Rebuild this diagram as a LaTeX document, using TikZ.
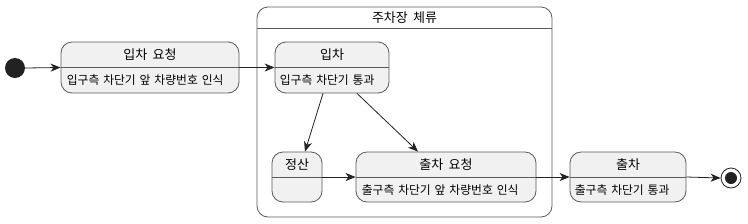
\documentclass[tikz,border=0pt]{standalone}
\usepackage{fontspec}
\setmainfont{Noto Sans CJK KR}
\usetikzlibrary{arrows.meta,calc}
\definecolor{linec}{HTML}{5A5A5A}
\definecolor{statefill}{HTML}{F1F1F1}
\definecolor{dotc}{HTML}{222222}
\newcommand\mytitlefont{\fontsize{13}{15}\selectfont\spaceskip=0.4em\relax}
\newcommand\mybodyfont{\fontsize{11.8}{13}\selectfont\spaceskip=0.33em\relax}
\begin{document}
\begin{tikzpicture}[x=1pt,y=-1pt,
  statebox/.style={draw=linec, fill=statefill, rounded corners=11pt, line width=0.8pt, inner sep=0pt},
  compbox/.style={draw=linec, fill=white, rounded corners=11pt, line width=0.8pt, inner sep=0pt},
  titletext/.style={font=\mytitlefont, inner sep=0pt},
  bodytext/.style={font=\mybodyfont, inner sep=0pt, anchor=west},
  conn/.style={draw=dotc, line width=0.8pt, -{Stealth[length=10pt,width=8pt,inset=3pt]}},
  divider/.style={draw=linec, line width=0.8pt}]
\useasboundingbox (0,0) rectangle (748,223);

% composite
\node[compbox, minimum width=295pt, minimum height=210pt] (comp) at (404.5,112) {};
\draw[divider] ($(comp.north west)+(0,22)$) -- ($(comp.north east)+(0,22)$);
\node[titletext] (compt) at ($(comp.north)+(0,11)$) {주차장 체류};

% start
\node[circle, fill=dotc, minimum size=20pt, inner sep=0pt] (start) at (15,68) {};

% state 1
\node[statebox, minimum width=178pt, minimum height=51pt] (s1) at (150,67.5) {};
\draw[divider] ($(s1.north west)+(0,26)$) -- ($(s1.north east)+(0,26)$);
\node[titletext] (s1t) at ($(s1.north)+(0,13)$) {입차 요청};
\node[bodytext] (s1b) at ($(s1.north west)+(6,38)$) {입구측 차단기 앞 차량번호 인식};

% state 2
\node[statebox, minimum width=114pt, minimum height=51pt] (s2) at (332,67.5) {};
\draw[divider] ($(s2.north west)+(0,26)$) -- ($(s2.north east)+(0,26)$);
\node[titletext] (s2t) at ($(s2.north)+(0,13)$) {입차};
\node[bodytext] (s2b) at ($(s2.north west)+(5,38)$) {입구측 차단기 통과};

% state 3
\node[statebox, minimum width=50pt, minimum height=50pt] (s3) at (297,177) {};
\draw[divider] ($(s3.north west)+(0,26)$) -- ($(s3.north east)+(0,26)$);
\node[titletext] (s3t) at ($(s3.north)+(0,13)$) {정산};

% state 4
\node[statebox, minimum width=180pt, minimum height=50pt] (s4) at (446,177) {};
\draw[divider] ($(s4.north west)+(0,26)$) -- ($(s4.north east)+(0,26)$);
\node[titletext] (s4t) at ($(s4.north)+(0,13)$) {출차 요청};
\node[bodytext] (s4b) at ($(s4.north west)+(6,38)$) {출구측 차단기 앞 차량번호 인식};

% state 5
\node[statebox, minimum width=116pt, minimum height=50pt] (s5) at (628,177) {};
\draw[divider] ($(s5.north west)+(0,26)$) -- ($(s5.north east)+(0,26)$);
\node[titletext] (s5t) at ($(s5.north)+(0,13)$) {출차};
\node[bodytext] (s5b) at ($(s5.north west)+(5,38)$) {출구측 차단기 통과};

% end
\node[circle, draw=dotc, fill=white, line width=0.8pt, minimum size=20pt, inner sep=0pt] (endo) at (731,178) {};
\node[circle, fill=dotc, minimum size=12pt, inner sep=0pt] (endi) at (731,178) {};

% connectors
\draw[conn] (start.east) -- (s1.west);
\draw[conn] (s1.east) -- (s2.west);
\draw[conn] ([xshift=-9pt]s2.south) -- ([xshift=8pt]s3.north);
\draw[conn] ([xshift=25pt]s2.south) -- ([xshift=-28pt]s4.north);
\draw[conn] (s3.east) -- (s4.west);
\draw[conn] (s4.east) -- (s5.west);
\draw[conn] (s5.east) -- (endo.west);
\end{tikzpicture}
\end{document}
